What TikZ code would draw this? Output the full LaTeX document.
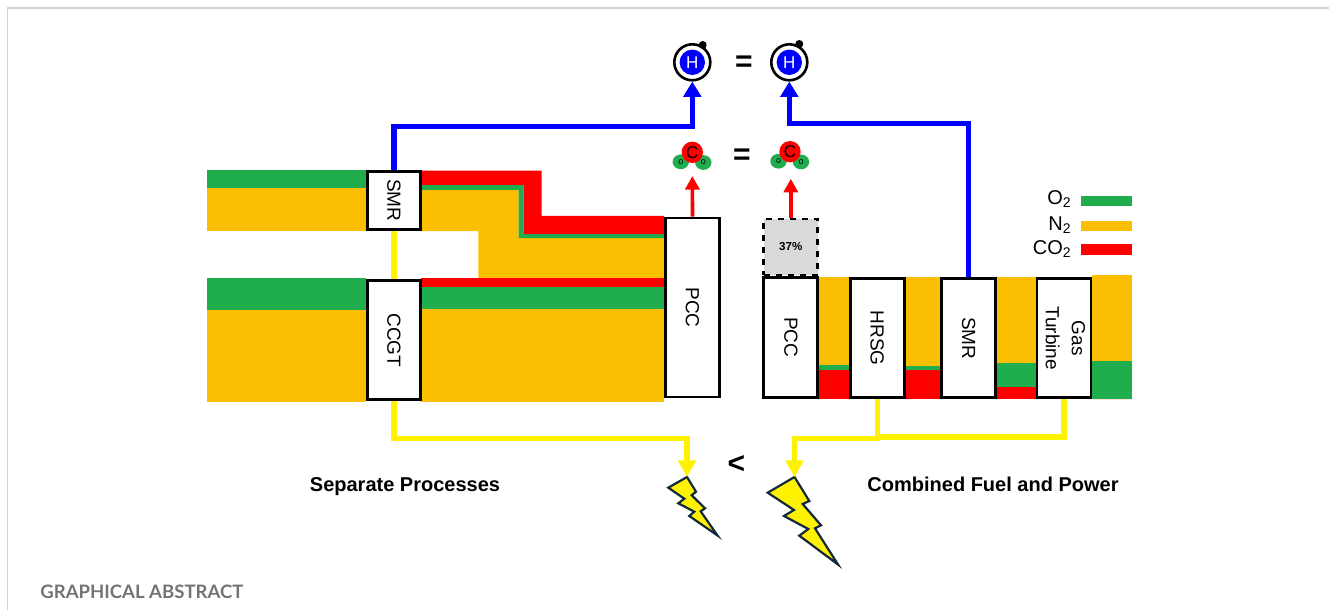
\documentclass[tikz,border=0pt]{standalone}
\usepackage{fontspec}
\setmainfont{Liberation Sans}
\newfontfamily\captionfont{Lato}
\usetikzlibrary{arrows.meta,shapes.geometric}

\definecolor{streamgreen}{HTML}{20AD4E}
\definecolor{streamorange}{HTML}{FBBF02}
\definecolor{boltline}{HTML}{12293B}

\tikzset{
    unitbox/.style 2 args={draw=black,line width=1.4pt,fill=white,inner sep=0pt,
        minimum width=#1*0.5pt,minimum height=#2*0.5pt,font=\fontsize{9.5}{13}\selectfont},
    bluepipe/.style={draw=blue,line width=2.7pt},
    yellowpipe/.style={draw=yellow,line width=2.6pt},
    redpipe/.style={draw=red,line width=1.8pt},
    bluetip/.style={-{Triangle[width=8.8pt,length=7.7pt]}},
    yellowtip/.style={-{Triangle[width=8.7pt,length=8.3pt]}},
    redtip/.style={-{Triangle[width=7pt,length=6.8pt]}},
    bolt/.style={draw=boltline,fill=yellow,line width=1.1pt,line join=miter},
    legendtext/.style={anchor=east,inner sep=0pt,font=\fontsize{10}{11}\selectfont},
    headtext/.style={anchor=base,inner sep=0pt,font=\bfseries\fontsize{10}{12}\selectfont},
    signtext/.style={font=\bfseries\fontsize{15}{16}\selectfont}
}

\begin{document}
\begin{tikzpicture}[x=0.5pt,y=-0.5pt]
    \useasboundingbox (0,0) rectangle (1329,610);

    % Page frame
    \draw[black!18,line width=0.6pt] (7.5,610) -- (7.5,8) -- (1329,8);

    % Separate processes: streams, upper
    \fill[streamgreen] (207,170) rectangle (367,188);
    \fill[streamorange] (207,188) rectangle (367,231);
    \fill[streamorange] (422,190) -- (518.6,190) -- (518.6,238) -- (664,238) -- (664,278.5)
        -- (478.3,278.5) -- (478.3,231) -- (422,231) -- cycle;
    \fill[streamgreen] (422,185) -- (523.7,185) -- (523.7,234) -- (664,234) -- (664,238)
        -- (518.6,238) -- (518.6,190) -- (422,190) -- cycle;
    \fill[red] (422,170.7) -- (541.6,170.7) -- (541.6,216) -- (664,216) -- (664,234)
        -- (523.7,234) -- (523.7,185) -- (422,185) -- cycle;

    % Separate processes: streams, lower
    \fill[streamgreen] (207,278.3) rectangle (366,310);
    \fill[streamorange] (207,310) rectangle (366,401.7);
    \fill[red] (421,278.3) rectangle (664,287.3);
    \fill[streamgreen] (421,287.3) rectangle (664,309);
    \fill[streamorange] (421,309) rectangle (664,401.7);

    % Combined process: streams (left edge/right edge/tops of the layers)
    \foreach \xa/\xb/\ya/\yb/\yc/\yd in {
        819/849/276.7/365/370/399.3,
        905/941/276.7/366/370/398.7,
        996/1036/276.7/362.7/387.3/399.3,
        1092/1132.3/275/361.3/398.7/398.7} {
        \fill[streamorange] (\xa,\ya) rectangle (\xb,\yb);
        \fill[streamgreen] (\xa,\yb) rectangle (\xb,\yc);
        \fill[red] (\xa,\yc) rectangle (\xb,\yd);
    }

    % Units
    \node[unitbox={52.5}{57.5}] (smrL) at (394,200.4) {\rotatebox{-90}{SMR}};
    \node[unitbox={52.5}{119}] (ccgtL) at (394,340.2) {\rotatebox{-90}{CCGT}};
    \node[unitbox={54}{179}] (pccL) at (692.5,307.5) {\rotatebox{-90}{PCC}};
    \node[unitbox={54}{120}] (pccR) at (790.8,337.2) {\rotatebox{-90}{PCC}};
    \node[unitbox={54}{119}] (hrsgR) at (877.2,338.2) {\rotatebox{-90}{HRSG}};
    \node[unitbox={54}{119}] (smrR) at (968.7,338.2) {\rotatebox{-90}{SMR}};
    \node[unitbox={54}{119}] (gtR) at (1064,338.2) {\rotatebox{-90}{\begin{tabular}{@{}c@{}}Gas\\Turbine\end{tabular}}};

    % Capture share
    \node[draw=black,line width=1.4pt,dashed,fill=black!15,inner sep=0pt,minimum width=27pt,
        minimum height=28pt,font=\bfseries\fontsize{5.8}{7}\selectfont] (capR) at (790.8,247) {37\%};

    % Hydrogen atoms
    \foreach \nm/\cx/\ex/\ey in {L/692.3/702.7/45,R/789.3/799.3/44} {
        \node[circle,draw=black,line width=1.3pt,fill=white,minimum size=18pt,inner sep=0pt] (h2\nm) at (\cx,62.3) {};
        \node[circle,fill=blue,minimum size=12.7pt,inner sep=0pt,text=white,font=\fontsize{8.5}{9}\selectfont] (core\nm) at (\cx,62.3) {H};
        \node[circle,fill=black,minimum size=4pt,inner sep=0pt] (elec\nm) at (\ex,\ey) {};
    }

    % CO2 molecules
    \foreach \nm/\cx/\cy in {L/692.3/152.3,R/790/151.7} {
        \node[ellipse,fill=streamgreen,minimum width=8.2pt,minimum height=7.4pt,inner sep=0pt,font=\fontsize{4.5}{5}\selectfont] (oa\nm) at (\cx-11.5,\cy+9.5) {o};
        \node[ellipse,fill=streamgreen,minimum width=8.2pt,minimum height=7.4pt,inner sep=0pt,font=\fontsize{4.5}{5}\selectfont] (ob\nm) at (\cx+11,\cy+10.2) {o};
        \node[circle,fill=red,minimum size=10.7pt,inner sep=0pt,font=\fontsize{8.5}{9}\selectfont] (co2\nm) at (\cx,\cy) {C};
    }

    % Hydrogen lines
    \coordinate (bendL) at (692.3,126.3);
    \coordinate (bendR) at (789.3,123.7);
    \draw[bluepipe,bluetip] (smrL.north) |- (bendL) -- (h2L.south);
    \draw[bluepipe,bluetip] (smrR.north) |- (bendR) -- (h2R.south);

    % CO2 lines
    \draw[redpipe,redtip,shorten >=6.3pt] (pccL.north) -- (co2L.south);
    \draw[redpipe,redtip,shorten >=8pt] (capR.north) -- (capR.north |- co2R.south);

    % Bolts
    \coordinate (boltL) at (687,477);
    \coordinate (boltR) at (794.5,477);
    \draw[bolt] (boltL) -- (696,491.7) -- (691.7,495.3) -- (705,508.3) -- (700.7,511.3)
        -- (717.5,535.5) -- (689.3,516) -- (694.3,511.7) -- (678.3,503.3) -- (684.3,498.7)
        -- (668.3,487.7) -- cycle;
    \draw[bolt] (boltR) -- (809.3,501) -- (802.7,504) -- (821,525.3) -- (815,528.3)
        -- (838,564.5) -- (799.3,535.7) -- (808.3,529) -- (784,516) -- (794,510)
        -- (767.7,492.7) -- cycle;

    % Power lines
    \coordinate (bendYL) at (687,438.5);
    \coordinate (bendYR) at (794.5,438.3);
    \draw[yellowpipe] (smrL.south) -- (ccgtL.north);
    \draw[yellowpipe,yellowtip] (ccgtL.south) |- (bendYL) -- (boltL);
    \draw[yellowpipe,yellowtip] (hrsgR.south) |- (bendYR) -- (boltR);
    \draw[yellowpipe] (gtR.south) |- (hrsgR.south |- 0,437);

    % Legend
    \fill[streamgreen] (1080.7,195.7) rectangle (1132.3,206);
    \fill[streamorange] (1080.7,220.7) rectangle (1132.3,231);
    \fill[red] (1080.7,243.7) rectangle (1132.3,255);
    \node[legendtext] (lblO) at (1072,199) {O\textsubscript{2}};
    \node[legendtext] (lblN) at (1072,225) {N\textsubscript{2}};
    \node[legendtext] (lblC) at (1072,249.5) {CO\textsubscript{2}};

    % Signs and titles
    \node[signtext] (eqH) at (744,64) {=};
    \node[signtext] (eqC) at (742,157) {=};
    \node[signtext] (ltE) at (736.5,464) {<};
    \node[headtext] (lblSep) at (405,491) {Separate Processes};
    \node[headtext] (lblCom) at (993,491) {Combined Fuel and Power};
    \node[anchor=west,inner sep=0pt,text=black!55,font=\captionfont\bfseries\fontsize{9.27}{11}\selectfont] (lblAbs) at (40,591.5) {GRAPHICAL ABSTRACT};
\end{tikzpicture}
\end{document}
